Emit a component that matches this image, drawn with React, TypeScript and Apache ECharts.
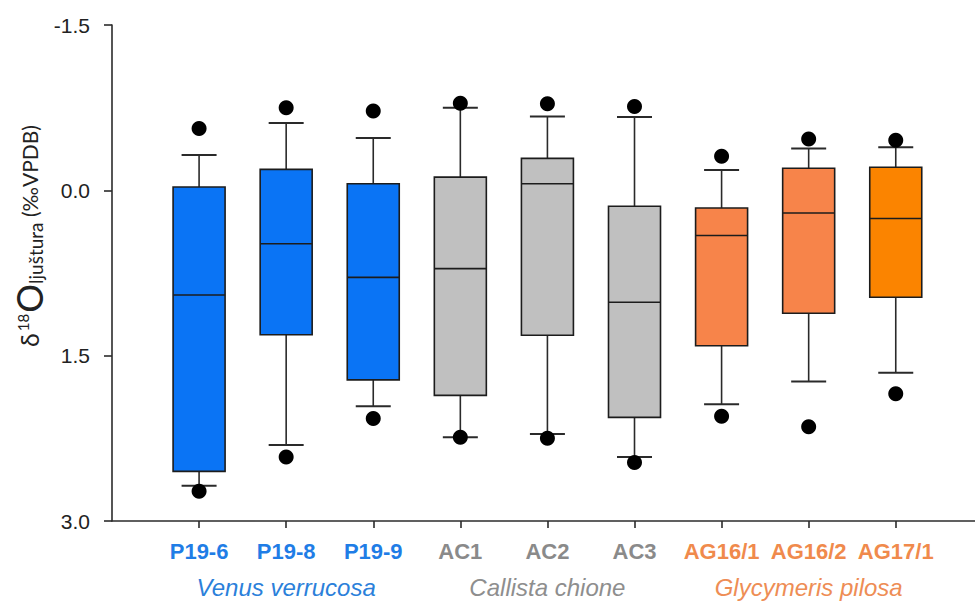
import React, { useEffect, useRef } from "react";
import * as echarts from "echarts";

// ---- data (values in ‰ VPDB) ----
const categories = ["P19-6", "P19-8", "P19-9", "AC1", "AC2", "AC3", "AG16/1", "AG16/2", "AG17/1"];
const whiskerLow = [-0.32, -0.61, -0.475, -0.75, -0.67, -0.665, -0.185, -0.38, -0.39];
const boxLow = [-0.03, -0.19, -0.06, -0.12, -0.29, 0.145, 0.16, -0.2, -0.21];
const medians = [0.95, 0.485, 0.79, 0.71, -0.06, 1.015, 0.41, 0.205, 0.255];
const boxHigh = [2.55, 1.31, 1.72, 1.86, 1.315, 2.06, 1.41, 1.115, 0.97];
const whiskerHigh = [2.68, 2.31, 1.96, 2.24, 2.21, 2.42, 1.94, 1.735, 1.655];
const outlierLow = [-0.56, -0.75, -0.72, -0.79, -0.785, -0.76, -0.31, -0.465, -0.455];
const outlierHigh = [2.73, 2.42, 2.07, 2.24, 2.25, 2.47, 2.05, 2.145, 1.845];
const yTicks = [-1.5, 0.0, 1.5, 3.0];

const species = [
  { name: "Venus verrucosa", center: 2, style: "blue" },
  { name: "Callista chione", center: 5, style: "gray" },
  { name: "Glycymeris pilosa", center: 8, style: "orange" },
];
const groupOf = ["blue", "blue", "blue", "gray", "gray", "gray", "orange", "orange", "orange"];

// ---- styles ----
const boxColors = ["#0A74F5", "#0A74F5", "#0A74F5", "#C0C0C0", "#C0C0C0", "#C0C0C0", "#F7844A", "#F7844A", "#FB8400"];
const labelColors: Record<string, string> = { blue: "#1F7DE6", gray: "#8A8A8A", orange: "#F08A4C" };
const speciesColors: Record<string, string> = { blue: "#2B80DA", gray: "#8E8E8E", orange: "#EE8D55" };

export default function App() {
  const ref = useRef<HTMLDivElement>(null);
  useEffect(() => {
    if (!ref.current) return;
    const chart = echarts.init(ref.current, undefined, { renderer: "svg" });
    const xs = categories.map((_, i) => i + 1);
    const boxData = categories.map((_, i) => [i + 1, whiskerLow[i], boxLow[i], medians[i], boxHigh[i], whiskerHigh[i]]);
    const outData: number[][] = [];
    categories.forEach((_, i) => {
      outData.push([i + 1, outlierLow[i]]);
      outData.push([i + 1, outlierHigh[i]]);
    });
    const rich: Record<string, any> = {};
    Object.keys(labelColors).forEach((k) => {
      rich[k] = { color: labelColors[k], fontSize: 22, fontWeight: "bold", fontFamily: "Liberation Sans, Arial, sans-serif" };
    });
    const option: any = {
      animation: false,
      backgroundColor: "#ffffff",
      grid: { left: 112, right: 0, top: 25, bottom: 80, containLabel: false },
      xAxis: {
        type: "value",
        min: 0,
        max: 9.91,
        interval: 1,
        splitLine: { show: false },
        axisLine: { show: true, onZero: false, lineStyle: { color: "#2b2b2b", width: 1.6 } },
        axisTick: { show: true, customValues: xs, length: 7, lineStyle: { color: "#2b2b2b", width: 1.6 } },
        axisLabel: {
          customValues: xs,
          margin: 19,
          formatter: (v: number) => {
            const i = Math.round(v) - 1;
            if (i < 0 || i >= categories.length) return "";
            return `{${groupOf[i]}|${categories[i]}}`;
          },
          rich,
        },
      },
      yAxis: {
        type: "value",
        inverse: true,
        min: -1.5,
        max: 3.0,
        interval: 1.5,
        splitLine: { show: false },
        axisLine: { show: true, onZero: false, lineStyle: { color: "#2b2b2b", width: 1.6 } },
        axisTick: { show: true, length: 8, lineStyle: { color: "#2b2b2b", width: 1.6 } },
        axisLabel: {
          customValues: yTicks,
          margin: 22,
          fontSize: 21,
          color: "#222",
          fontFamily: "Liberation Sans, Arial, sans-serif",
          formatter: (v: number) => v.toFixed(1),
        },
      },
      series: [
        {
          type: "custom",
          data: boxData,
          encode: { x: 0, y: [1, 2, 3, 4, 5] },
          z: 2,
          renderItem: (params: any, api: any) => {
            const x = api.value(0);
            const lo = api.coord([x, api.value(1)]);
            const q1 = api.coord([x, api.value(2)]);
            const md = api.coord([x, api.value(3)]);
            const q3 = api.coord([x, api.value(4)]);
            const hi = api.coord([x, api.value(5)]);
            const cx = lo[0];
            const bw = 52;
            const cw = 35;
            const ls = { stroke: "#2a2a2a", lineWidth: 1.6 };
            return {
              type: "group",
              children: [
                { type: "line", shape: { x1: cx, y1: lo[1], x2: cx, y2: q1[1] }, style: ls },
                { type: "line", shape: { x1: cx, y1: q3[1], x2: cx, y2: hi[1] }, style: ls },
                { type: "line", shape: { x1: cx - cw / 2, y1: lo[1], x2: cx + cw / 2, y2: lo[1] }, style: { stroke: "#2a2a2a", lineWidth: 2 } },
                { type: "line", shape: { x1: cx - cw / 2, y1: hi[1], x2: cx + cw / 2, y2: hi[1] }, style: { stroke: "#2a2a2a", lineWidth: 2 } },
                {
                  type: "rect",
                  shape: { x: cx - bw / 2, y: Math.min(q1[1], q3[1]), width: bw, height: Math.abs(q3[1] - q1[1]) },
                  style: { fill: boxColors[params.dataIndex], stroke: "#1c1c1c", lineWidth: 1.6 },
                },
                { type: "line", shape: { x1: cx - bw / 2, y1: md[1], x2: cx + bw / 2, y2: md[1] }, style: { stroke: "#1c1c1c", lineWidth: 1.6 } },
              ],
            };
          },
        },
        {
          type: "scatter",
          data: outData,
          symbol: "circle",
          symbolSize: 15,
          itemStyle: { color: "#000", opacity: 1 },
          z: 3,
        },
      ],
    };
    chart.setOption(option);

    const speciesGraphics = species.map((s) => {
      const p = chart.convertToPixel({ xAxisIndex: 0 }, s.center) as number;
      return {
        type: "text",
        x: p,
        y: 587,
        style: {
          text: s.name,
          fill: speciesColors[s.style],
          font: "italic 24px 'Liberation Sans', Arial, sans-serif",
          align: "center",
          verticalAlign: "middle",
        },
      };
    });
    const ff = "Lato, 'Liberation Sans', sans-serif";
    chart.setOption({
      graphic: [
        ...speciesGraphics,
        {
          type: "text",
          x: 29,
          y: 236,
          rotation: Math.PI / 2,
          style: {
            text: "{d|δ}{s|18}{o|O}{sub|ljuštura}{p| (‰VPDB)}",
            align: "center",
            verticalAlign: "middle",
            fill: "#222",
            rich: {
              d: { fontSize: 25, fontFamily: ff, fill: "#222", padding: [0, 2, 0, 0] },
              s: { fontSize: 15, fontFamily: ff, fill: "#222", padding: [0, 1, 13, 0] },
              o: { fontSize: 36, fontFamily: ff, fill: "#222" },
              sub: { fontSize: 19, fontFamily: ff, fill: "#222", padding: [12, 0, 0, 0] },
              p: { fontSize: 21, fontFamily: ff, fill: "#222" },
            },
          },
        },
      ],
    });
    return () => chart.dispose();
  }, []);
  return (
    <div
      ref={ref}
      style={{ position: "absolute", left: 0, top: 0, width: 975, height: 601, background: "#fff", overflow: "hidden" }}
    />
  );
}
